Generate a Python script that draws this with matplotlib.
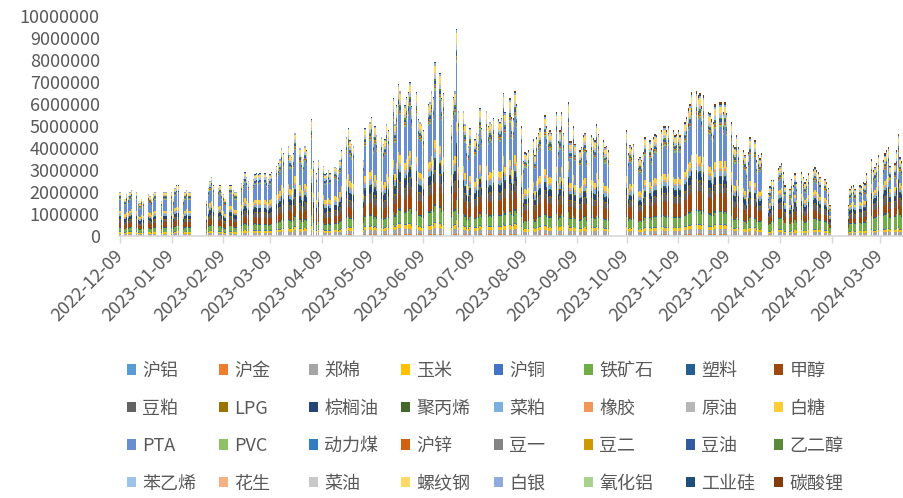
import numpy as np
import pandas as pd
import matplotlib
matplotlib.use('Agg')
import matplotlib.pyplot as plt
import matplotlib.dates as mdates
from matplotlib.patches import Patch

plt.rcParams['font.family'] = ['Noto Sans CJK SC', 'DejaVu Sans']

names = ['沪铝', '沪金', '郑棉', '玉米', '沪铜', '铁矿石', '塑料', '甲醇',
         '豆粕', 'LPG', '棕榈油', '聚丙烯', '菜粕', '橡胶', '原油', '白糖',
         'PTA', 'PVC', '动力煤', '沪锌', '豆一', '豆二', '豆油', '乙二醇',
         '苯乙烯', '花生', '菜油', '螺纹钢', '白银', '氧化铝', '工业硅', '碳酸锂']
colors = ['#5B9BD5', '#ED7D31', '#A5A5A5', '#FFC000', '#4472C4', '#70AD47', '#255E91', '#9E480E',
          '#636363', '#997300', '#264478', '#43682B', '#7CAFDD', '#F1975A', '#B7B7B7', '#FFCD33',
          '#698ED0', '#8CC168', '#327DC2', '#D26012', '#848484', '#CC9A00', '#335AA1', '#5A8A39',
          '#9DC3E6', '#F4B183', '#C9C9C9', '#FFD966', '#8FAADC', '#A9D18E', '#1F4E79', '#843C0C']

# exchange holidays (weekdays without trading)
holidays = ['2023-01-02', '2023-01-23', '2023-01-24', '2023-01-25', '2023-01-26', '2023-01-27',
            '2023-04-05', '2023-05-01', '2023-05-02', '2023-05-03', '2023-06-22', '2023-06-23',
            '2023-09-29', '2023-10-02', '2023-10-03', '2023-10-04', '2023-10-05', '2023-10-06',
            '2024-01-01', '2024-02-09', '2024-02-12', '2024-02-13', '2024-02-14', '2024-02-15',
            '2024-02-16']

# daily total volume, million lots (one row per week)
daily_total = [
    2.0,
    1.7, 1.9, 1.8, 2.0, 2.1,
    2.0, 1.6, 1.5, 1.7, 1.6,
    1.9, 1.8, 1.7, 1.9, 2.0,
    1.6, 2.0, 2.0, 2.0,
    2.0, 1.7, 2.2, 2.3, 2.3,
    1.7, 2.0, 2.1, 2.0, 2.0,
    1.6, 2.2, 2.5, 2.7, 2.3,
    2.2, 2.3, 2.0, 1.9, 1.7,
    2.3, 2.3, 2.1, 2.0, 2.0,
    2.4, 2.6, 2.9, 2.7, 2.5,
    2.6, 2.8, 2.85, 2.8, 2.85,
    2.85, 2.7, 2.6, 2.8, 2.9,
    3.2, 3.3, 3.5, 4.0, 3.75,
    4.1, 3.7, 3.6, 3.75, 4.7,
    4.0, 3.6, 3.5, 4.1, 3.9,
    5.3, 3.4, 2.85, 3.45,
    3.2, 2.8, 2.85, 3.0, 2.85,
    3.15, 3.1, 3.0, 3.45, 3.9,
    4.5, 4.9, 4.35, 4.2, 4.1,
    3.45, 4.9,
    5.2, 5.4, 4.5, 5.0, 4.6,
    4.5, 4.2, 4.4, 5.1, 4.8,
    6.25, 5.1, 5.95, 6.9, 6.6,
    5.95, 6.3, 6.55, 7.0, 5.9,
    6.55, 5.3, 5.2, 5.1, 4.8,
    6.0, 6.1, 6.6, 6.3, 7.9,
    7.4, 6.25, 6.5,
    5.05, 6.3, 6.6, 9.4, 5.7,
    5.7, 5.1, 4.2, 4.1, 4.9,
    4.4, 4.7, 4.65, 5.8, 4.9,
    5.7, 5.0, 5.2, 5.1, 5.35,
    5.3, 5.2, 5.35, 6.5, 5.65,
    6.25, 5.4, 5.35, 6.6, 6.0,
    5.0, 3.4, 3.8, 3.75, 3.9,
    4.4, 3.7, 4.5, 4.7, 4.9,
    5.5, 5.0, 4.7, 4.8, 4.7,
    5.65, 4.3, 4.8, 5.65, 4.7,
    6.1, 4.3, 4.3, 5.0, 4.2,
    3.9, 4.05, 4.6, 4.7, 3.9,
    4.6, 4.45, 4.35, 5.1, 4.65,
    4.35, 4.05, 4.1, 3.9,
    4.8, 3.75, 4.15, 4.05, 4.2,
    3.5, 3.6, 3.45, 3.8, 4.5,
    4.35, 4.0, 4.5, 4.65, 4.6,
    4.8, 5.0, 5.0, 4.8, 5.0,
    4.8, 4.6, 4.65, 4.8, 4.6,
    5.2, 5.4, 5.8, 6.0, 6.55,
    6.6, 6.4, 6.5, 5.9, 6.4,
    5.65, 5.6, 5.3, 5.2, 6.0,
    6.1, 6.1, 5.65, 6.1, 5.6,
    5.2, 4.15, 4.05, 4.6, 4.05,
    3.9, 3.7, 3.15, 3.8, 4.5,
    4.35, 3.45, 3.7, 3.55, 3.75,
    1.95, 2.25, 2.55, 2.55,
    3.1, 3.2, 3.3, 2.9, 2.3,
    2.15, 2.6, 2.3, 2.85, 2.45,
    2.9, 2.7, 2.45, 2.6, 2.85,
    3.05, 3.15, 3.0, 2.9, 2.7,
    2.6, 2.45, 2.2, 1.4,
    1.4, 2.15, 2.25, 2.3, 2.15,
    2.3, 2.25, 2.45, 2.4, 2.85,
    3.5, 3.0, 3.15, 3.3, 3.7,
    3.45, 3.75, 3.9, 4.05, 3.2,
    3.3, 3.9, 4.65, 3.6, 3.4,
]

# monthly mix per product, thousand lots, 2022-12 .. 2024-03
al = [20, 20, 25, 30, 30, 40, 40, 40, 35, 35, 35, 40, 40, 25, 20, 30]
au = [20, 20, 25, 35, 35, 45, 50, 45, 40, 40, 40, 45, 40, 30, 25, 35]
cf = [90, 90, 110, 150, 150, 200, 230, 220, 200, 190, 180, 220, 190, 110, 100, 130]
c = [90, 90, 100, 120, 120, 150, 180, 170, 160, 160, 150, 160, 140, 100, 80, 100]
cu = [25, 25, 30, 40, 40, 50, 50, 50, 45, 45, 45, 50, 45, 30, 25, 35]
iron = [200, 220, 280, 350, 350, 450, 600, 500, 450, 450, 450, 550, 450, 450, 350, 650]
l = [30, 30, 40, 50, 50, 60, 70, 70, 60, 60, 60, 70, 60, 40, 35, 50]
ma = [250, 260, 320, 400, 400, 550, 800, 700, 650, 600, 600, 800, 650, 350, 250, 400]
m = [150, 150, 200, 300, 300, 400, 450, 400, 350, 300, 300, 400, 300, 250, 200, 350]
pg = [30, 30, 40, 50, 50, 60, 70, 60, 55, 55, 50, 60, 50, 30, 30, 40]
p = [150, 150, 200, 250, 250, 330, 380, 330, 280, 260, 260, 330, 260, 180, 150, 220]
pp = [30, 30, 40, 50, 50, 60, 70, 70, 60, 60, 60, 70, 60, 40, 35, 50]
rm = [80, 80, 100, 150, 150, 200, 250, 220, 200, 200, 180, 220, 180, 120, 100, 150]
ru = [30, 30, 40, 50, 50, 60, 70, 70, 60, 60, 60, 70, 60, 40, 35, 50]
sc = [30, 30, 40, 50, 50, 60, 60, 60, 60, 60, 60, 70, 60, 40, 35, 50]
sr = [150, 150, 180, 250, 250, 300, 300, 300, 280, 280, 250, 300, 250, 150, 120, 180]
ta = [600, 600, 700, 1000, 1000, 1500, 1900, 1600, 1400, 1300, 1200, 1600, 1300, 400, 300, 500]
v = [40, 40, 50, 60, 60, 80, 100, 90, 80, 80, 80, 90, 80, 50, 40, 60]
zc = [0, 0, 0, 0, 0, 0, 0, 0, 0, 0, 0, 0, 0, 0, 0, 0]
zn = [20, 20, 25, 30, 30, 40, 50, 50, 45, 45, 45, 50, 45, 30, 25, 35]
a = [25, 25, 30, 40, 40, 50, 60, 50, 45, 45, 45, 50, 45, 30, 25, 35]
b = [15, 15, 20, 25, 25, 30, 35, 30, 30, 30, 30, 30, 30, 20, 15, 25]
y = [50, 50, 60, 80, 80, 100, 120, 110, 100, 100, 90, 110, 90, 60, 50, 70]
eg = [30, 30, 40, 50, 50, 60, 70, 70, 60, 60, 60, 70, 60, 40, 35, 50]
eb = [50, 50, 60, 80, 80, 100, 120, 110, 100, 100, 90, 110, 90, 60, 50, 70]
pk = [20, 20, 25, 30, 30, 40, 50, 45, 40, 40, 40, 45, 40, 25, 20, 30]
oi = [25, 25, 30, 40, 40, 50, 60, 55, 50, 50, 50, 55, 50, 30, 25, 35]
rb = [100, 100, 120, 180, 180, 250, 300, 280, 250, 250, 230, 280, 230, 150, 120, 180]
ag = [40, 40, 50, 60, 60, 80, 100, 90, 80, 80, 80, 90, 80, 50, 40, 60]
ao = [0, 0, 0, 0, 0, 0, 0, 0, 0, 0, 0, 0, 0, 0, 0, 0]
si = [5, 10, 15, 20, 20, 25, 30, 30, 30, 30, 30, 35, 30, 20, 15, 25]
lc = [0, 0, 0, 0, 0, 0, 0, 30, 60, 60, 60, 80, 80, 60, 50, 70]
series = [al, au, cf, c, cu, iron, l, ma, m, pg, p, pp, rm, ru, sc, sr,
          ta, v, zc, zn, a, b, y, eg, eb, pk, oi, rb, ag, ao, si, lc]

# listing dates of the newer option contracts
launch = {'工业硅': '2022-12-22', '碳酸锂': '2023-07-24'}

dates = pd.bdate_range('2022-12-09', '2024-03-22')
dates = dates[~dates.isin(pd.to_datetime(holidays))]
assert len(dates) == len(daily_total), (len(dates), len(daily_total))

months = pd.period_range('2022-12', '2024-03', freq='M')
mi = np.array([months.get_loc(d.to_period('M')) for d in dates])
W = np.array(series, dtype=float)[:, mi]
for k, start in launch.items():
    W[names.index(k), dates < pd.Timestamp(start)] = 0
vals = W / W.sum(axis=0) * np.array(daily_total) * 1e6

fig = plt.figure(figsize=(9.04, 4.98), dpi=100)
ax = fig.add_axes([0.1319, 0.5261, 0.8666, 0.4418])

x = mdates.date2num(dates)
bottom = np.zeros(len(x))
for k in range(len(names)):
    ax.bar(x, vals[k], bottom=bottom, width=0.8, color=colors[k], linewidth=0)
    bottom += vals[k]

ax.set_xlim(mdates.date2num(pd.Timestamp('2022-12-09')) - 0.5,
            mdates.date2num(pd.Timestamp('2024-03-22')) + 0.5)
ax.set_ylim(0, 1e7)
yt = np.arange(0, 10000001, 1000000)
ax.set_yticks(yt)
ax.set_yticklabels([str(t) for t in yt])

ticks = pd.date_range('2022-12-09', '2024-03-09', freq=pd.DateOffset(months=1))
ax.set_xticks(mdates.date2num(ticks))
ax.set_xticklabels([t.strftime('%Y-%m-%d') for t in ticks], rotation=45,
                   ha='right', va='center', rotation_mode='anchor')

for s in ['top', 'right', 'left']:
    ax.spines[s].set_visible(False)
ax.spines['bottom'].set_color('#D9D9D9')
ax.spines['bottom'].set_linewidth(1.2)
ax.tick_params(axis='y', length=0, pad=14, labelsize=13, labelcolor='#595959')
ax.tick_params(axis='x', length=5, width=1, color='#D9D9D9', pad=7,
               labelsize=13, labelcolor='#595959')

# legend: 4 rows x 8 columns, one legend per column
col_px = [127, 219, 309, 401, 494, 584, 686, 774]
for col in range(8):
    idx = [r * 8 + col for r in range(4)]
    leg = fig.legend([Patch(facecolor=colors[i], edgecolor='none') for i in idx],
                     [names[i] for i in idx], loc='upper left',
                     bbox_to_anchor=(col_px[col] / 904, 0.273),
                     frameon=False, fontsize=13, handlelength=0.5, handleheight=0.5,
                     handletextpad=0.35, labelspacing=1.08, borderpad=0, borderaxespad=0)
    for t in leg.get_texts():
        t.set_color('#595959')

fig.savefig('out.png', dpi=100)
